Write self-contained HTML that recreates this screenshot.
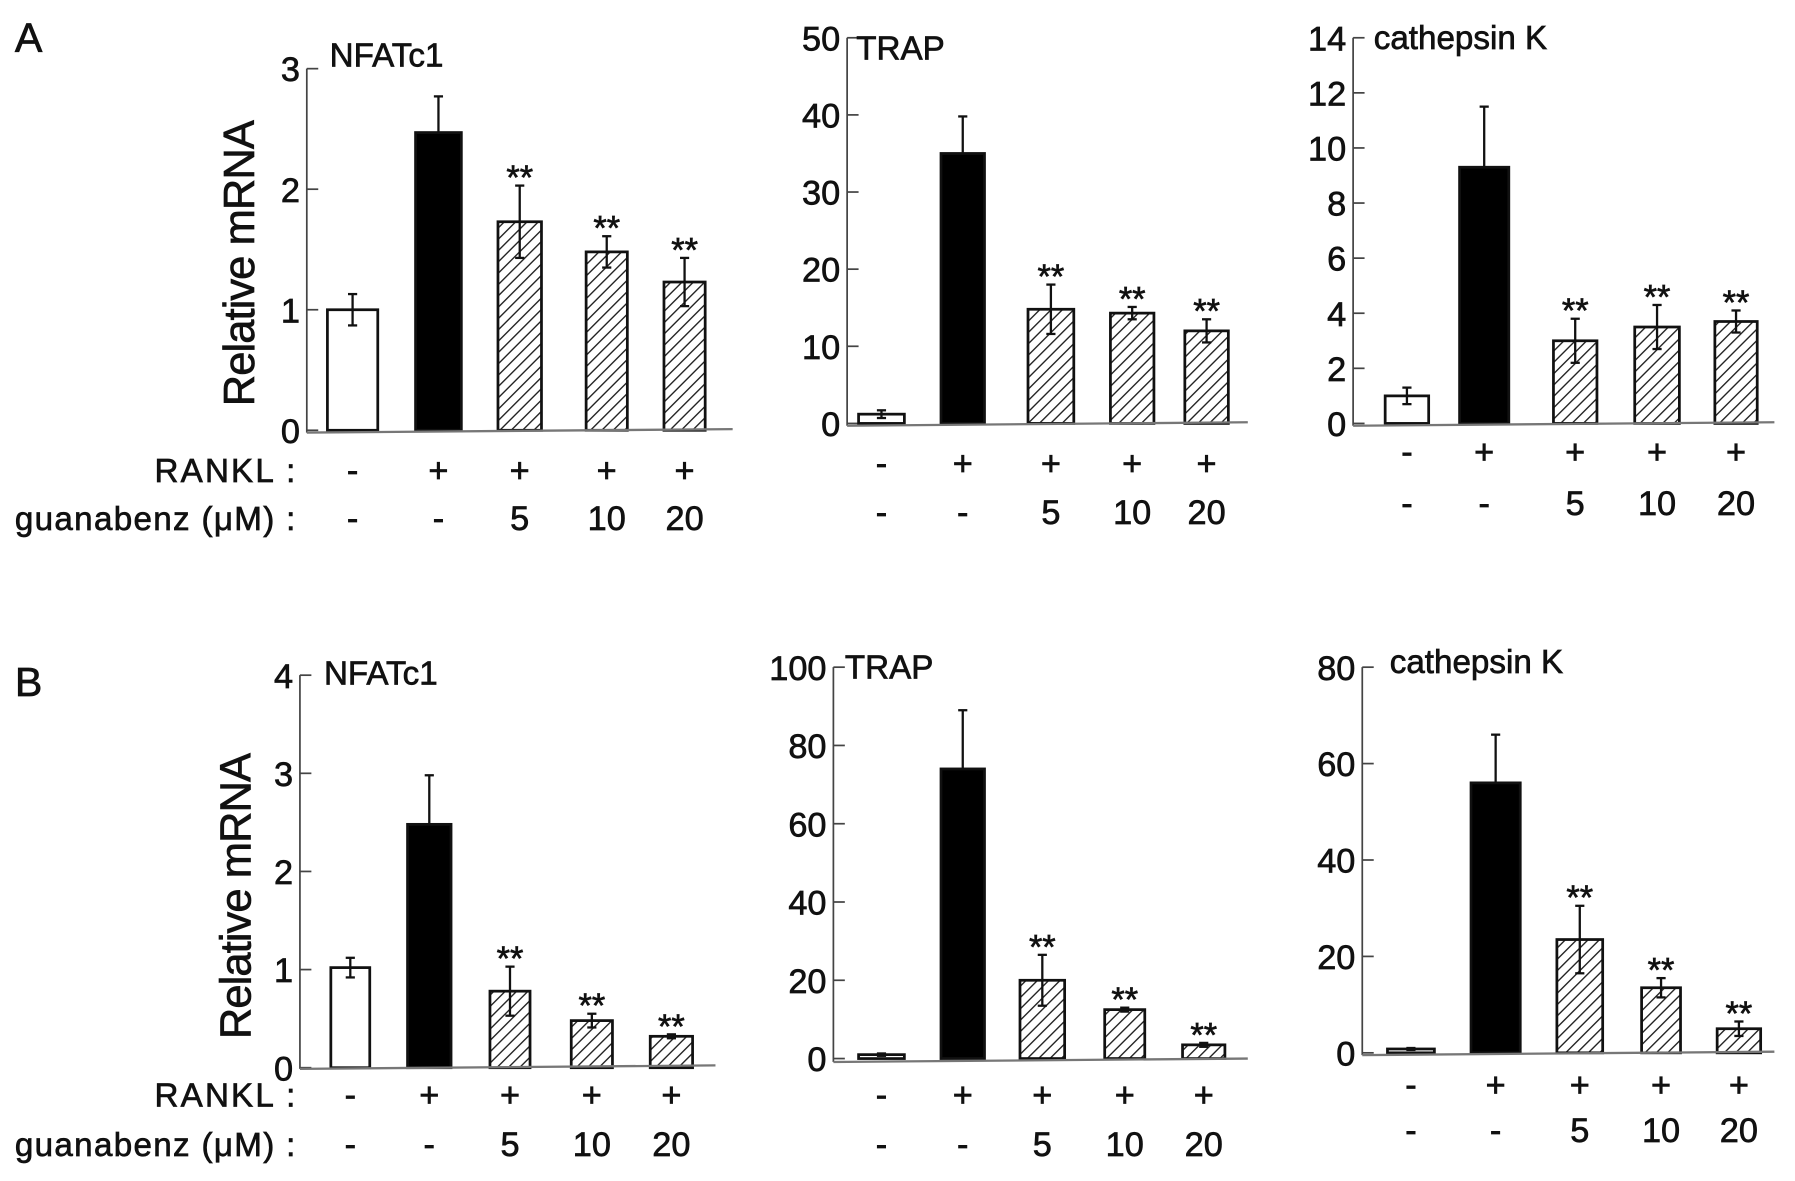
<!DOCTYPE html>
<html><head><meta charset="utf-8">
<style>
html,body{margin:0;padding:0;background:#fff;}
svg{display:block;}
text{font-family:"Liberation Sans Narrow","Liberation Sans",sans-serif;fill:#111;stroke:#111;stroke-width:0.6;}
</style></head>
<body>
<svg id="fig" width="1795" height="1181" viewBox="0 0 1568 1032" preserveAspectRatio="none" xmlns="http://www.w3.org/2000/svg">
<defs>
<pattern id="hatch" patternUnits="userSpaceOnUse" width="7" height="7" patternTransform="rotate(45)">
<rect width="7" height="7" fill="#fff"/>
<line x1="0" y1="0" x2="0" y2="7" stroke="#222" stroke-width="2.4"/>
</pattern>
</defs>
<text x="13" y="45" font-size="36">A</text>
<text x="13" y="608" font-size="36">B</text>
<text transform="translate(222,230) rotate(-90)" text-anchor="middle" font-size="38" textLength="250">Relative mRNA</text>
<text transform="translate(219,783) rotate(-90)" text-anchor="middle" font-size="38" textLength="250">Relative mRNA</text>
<text x="135" y="421" font-size="29" textLength="123">RANKL :</text>
<text x="13" y="463" font-size="29" textLength="245">guanabenz (μM) :</text>
<text x="135" y="967" font-size="29" textLength="123">RANKL :</text>
<text x="13" y="1010" font-size="29" textLength="245">guanabenz (μM) :</text>
<g id="charts"></g>
</svg>
<script>
const rankl = ["-", "+", "+", "+", "+"];
const guanabenz = ["-", "-", "5", "10", "20"];
const fills = ["white", "black", "hatch", "hatch", "hatch"];
const stars = [false, false, true, true, true];

const a1Values = [1.0, 2.47, 1.73, 1.48, 1.23];
const a1Errors = [0.13, 0.3, 0.3, 0.13, 0.2];
const a1Ticks = [0, 1, 2, 3];
const a2Values = [1.2, 35, 14.8, 14.3, 12];
const a2Errors = [0.5, 4.8, 3.2, 0.8, 1.5];
const a2Ticks = [0, 10, 20, 30, 40, 50];
const a3Values = [1.0, 9.3, 3.0, 3.5, 3.7];
const a3Errors = [0.3, 2.2, 0.8, 0.8, 0.4];
const a3Ticks = [0, 2, 4, 6, 8, 10, 12, 14];
const b1Values = [1.02, 2.48, 0.78, 0.48, 0.32];
const b1Errors = [0.1, 0.5, 0.25, 0.07, 0.02];
const b1Ticks = [0, 1, 2, 3, 4];
const b2Values = [1, 74, 20, 12.5, 3.5];
const b2Errors = [0.3, 15, 6.5, 0.5, 0.5];
const b2Ticks = [0, 20, 40, 60, 80, 100];
const b3Values = [0.8, 56, 23.5, 13.5, 5];
const b3Errors = [0.2, 10, 7, 2, 1.5];
const b3Ticks = [0, 20, 40, 60, 80];

const NS = "http://www.w3.org/2000/svg";
const root = document.getElementById("charts");
function mk(tag, attrs, parent) {
  const e = document.createElementNS(NS, tag);
  for (const k in attrs) e.setAttribute(k, attrs[k]);
  (parent || root).appendChild(e);
  return e;
}

const panels = [
  {id:"a-nfatc1", title:"NFATc1", tx:288, ty:58, ax:268, y0:376, y1:60, base:378, xend:640, vals:a1Values, errs:a1Errors, ticks:a1Ticks,
   bx:[[286,330],[363,403],[435,473],[512,548],[580,616]], sy1:421, sy2:463},
  {id:"a-trap", title:"TRAP", tx:748, ty:52, ax:740, y0:370, y1:33, base:372, xend:1090, vals:a2Values, errs:a2Errors, ticks:a2Ticks,
   bx:[[750,790],[822,860],[898,938],[970,1008],[1035,1073]], sy1:415, sy2:458},
  {id:"a-cathepsin-k", title:"cathepsin K", tx:1200, ty:43, ax:1182, y0:370, y1:33, base:372, xend:1550, vals:a3Values, errs:a3Errors, ticks:a3Ticks,
   bx:[[1210,1248],[1275,1318],[1357,1395],[1428,1467],[1498,1535]], sy1:405, sy2:450},
  {id:"b-nfatc1", title:"NFATc1", tx:283, ty:598, ax:262, y0:933, y1:590, base:934, xend:625, vals:b1Values, errs:b1Errors, ticks:b1Ticks,
   bx:[[289,323],[356,394],[428,463],[499,535],[568,605]], sy1:967, sy2:1010},
  {id:"b-trap", title:"TRAP", tx:738, ty:593, ax:728, y0:925, y1:583, base:928, xend:1090, vals:b2Values, errs:b2Errors, ticks:b2Ticks,
   bx:[[750,790],[822,860],[891,930],[965,1000],[1033,1070]], sy1:967, sy2:1010},
  {id:"b-cathepsin-k", title:"cathepsin K", tx:1214, ty:588, ax:1190, y0:920, y1:583, base:922, xend:1550, vals:b3Values, errs:b3Errors, ticks:b3Ticks,
   bx:[[1212,1253],[1285,1328],[1360,1400],[1434,1468],[1500,1538]], sy1:958, sy2:998}
];

panels.forEach(p => {
  const g = mk("g", {});
  
  
  const maxT = p.ticks[p.ticks.length - 1];
  const yScale = v => p.y0 - (v / maxT) * (p.y0 - p.y1);
  const axis = mk("line", {x1:p.ax, y1:p.y1, x2:p.ax, y2:p.base, stroke:"#444", "stroke-width":1.5}, g);
  
  
  p.ticks.forEach(t => {
    const y = yScale(t);
    mk("line", {x1:p.ax, y1:y, x2:p.ax + 10, y2:y, stroke:"#444", "stroke-width":1.5}, g);
    const tl = mk("text", {x:p.ax - 6, y:y + 11, "text-anchor":"end", "font-size":30}, g);
    tl.textContent = String(t);
    
    
  });
  const tt = mk("text", {x:p.tx, y:p.ty, "font-size":29}, g);
  tt.textContent = p.title;
  
  
  p.vals.forEach((v, i) => {
    const [xa, xb] = p.bx[i];
    const yt = yScale(v);
    const f = fills[i] === "hatch" ? "url(#hatch)" : fills[i];
    const r = mk("rect", {x:xa, y:yt, width:xb - xa, height:Math.max(p.y0 - yt, 1), fill:f, stroke:"#111", "stroke-width":2.4}, g);
    
    
    const cx = (xa + xb) / 2;
    const ye = yScale(v + p.errs[i]);
    const yl = yScale(v - p.errs[i]);
    const eb = mk("line", {x1:cx, y1:ye, x2:cx, y2:fills[i] === "black" ? yt : yl, stroke:"#111", "stroke-width":2}, g);
    
    
    mk("line", {x1:cx - 4, y1:ye, x2:cx + 4, y2:ye, stroke:"#111", "stroke-width":2}, g);
    if (fills[i] !== "black") mk("line", {x1:cx - 4, y1:yl, x2:cx + 4, y2:yl, stroke:"#111", "stroke-width":2}, g);
    if (stars[i]) {
      const s = mk("text", {x:cx, y:ye + 3, "text-anchor":"middle", "font-size":30, fill:"#333", stroke:"#333"}, g);
      s.textContent = "**";
      
      
    }
    const r1 = mk("text", {x:cx, y:p.sy1, "text-anchor":"middle", "font-size":30}, g);
    r1.textContent = rankl[i];
    
    
    const r2 = mk("text", {x:cx, y:p.sy2, "text-anchor":"middle", "font-size":30}, g);
    r2.textContent = guanabenz[i];
    
    
  });
  const bl = mk("line", {x1:p.ax, y1:p.base, x2:p.xend, y2:p.base - 3, stroke:"#777", "stroke-width":2}, g);
  
  
});
</script>
</body></html>
